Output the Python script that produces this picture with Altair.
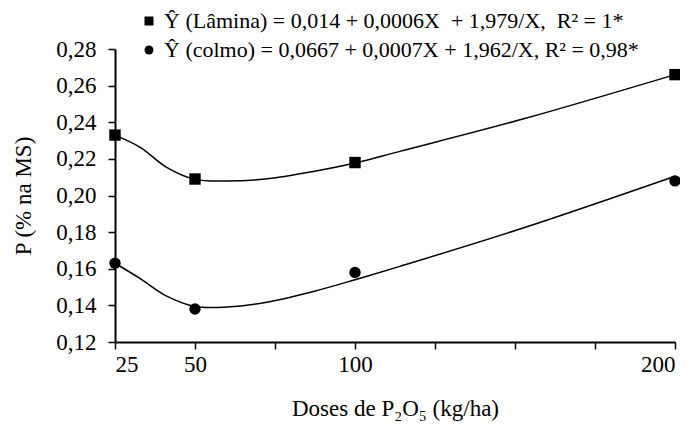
import altair as alt
import pandas as pd

# Observed values (markers)
doses = [25, 50, 100, 200]
lamina_obs = [0.233, 0.209, 0.218, 0.266]
colmo_obs = [0.163, 0.138, 0.158, 0.208]

# Fitted curve
curve_x = [25, 33, 41, 50, 60, 72, 87, 100, 114, 153, 200]
lamina_curve = [0.233, 0.2262, 0.2155, 0.2088, 0.2079, 0.209, 0.2131, 0.2177, 0.2241, 0.242, 0.266]
colmo_curve = [0.163, 0.1545, 0.1452, 0.1394, 0.1391, 0.1416, 0.1476, 0.154, 0.1613, 0.1825, 0.2105]

lab_lamina = "Ŷ (Lâmina) = 0,014 + 0,0006X \u00a0+ 1,979/X, \u00a0R² = 1*"
lab_colmo = "Ŷ (colmo) = 0,0667 + 0,0007X + 1,962/X, R² = 0,98*"
series_order = [lab_lamina, lab_colmo]

x_ticks = [25, 50, 75, 100, 125, 150, 175, 200]
y_ticks = [0.12, 0.14, 0.16, 0.18, 0.20, 0.22, 0.24, 0.26, 0.28]

obs = pd.DataFrame(
    [{"serie": lab_lamina, "dose": d, "p": v} for d, v in zip(doses, lamina_obs)]
    + [{"serie": lab_colmo, "dose": d, "p": v} for d, v in zip(doses, colmo_obs)]
)
curve = pd.DataFrame(
    [{"serie": lab_lamina, "dose": d, "p": v} for d, v in zip(curve_x, lamina_curve)]
    + [{"serie": lab_colmo, "dose": d, "p": v} for d, v in zip(curve_x, colmo_curve)]
)

FONT = "Liberation Serif"

x_enc = alt.X(
    "dose:Q",
    scale=alt.Scale(domain=[25, 200], nice=False, zero=False),
    axis=alt.Axis(
        values=x_ticks,
        labelExpr="(datum.value == 25 || datum.value == 50 || datum.value == 100 || datum.value == 200) ? datum.label : ''",
        title="Doses de P₂O₅ (kg/ha)",
        labelFont=FONT,
        titleFont=FONT,
        tickSize=7,
        labelPadding=4,
        titlePadding=21,
        grid=False,
    ),
)
y_enc = alt.Y(
    "p:Q",
    scale=alt.Scale(domain=[0.12, 0.28], nice=False, zero=False),
    axis=alt.Axis(
        values=y_ticks,
        labelExpr="replace(format(datum.value, '.2f'), '.', ',')",
        title="P (% na MS)",
        labelFont=FONT,
        titleFont=FONT,
        tickSize=7,
        labelPadding=12,
        titlePadding=20,
        grid=False,
    ),
)

line = alt.Chart(curve).mark_line(
    color="black", strokeWidth=1.5, interpolate="catmull-rom"
).encode(x=x_enc, y=y_enc, detail="serie:N", order="dose:Q")

points = alt.Chart(obs).mark_point(
    filled=True, opacity=1, color="black", size=130
).encode(
    x=x_enc,
    y=y_enc,
    shape=alt.Shape(
        "serie:N",
        scale=alt.Scale(domain=series_order, range=["square", "circle"]),
        legend=alt.Legend(
            title=None,
            orient="none",
            legendX=23,
            legendY=-39,
            direction="vertical",
            symbolSize=81,
            symbolFillColor="black",
            symbolStrokeColor="black",
            symbolOpacity=1,
            labelFont=FONT,
            labelFontSize=22,
            labelColor="black",
            labelLimit=0,
            labelOffset=4,
            rowPadding=7,
            padding=0,
        ),
    ),
)

chart = (
    alt.layer(line, points)
    .properties(
        width=560,
        height=293,
        autosize=alt.AutoSizeParams(type="none"),
        padding={"left": 107, "top": 41, "right": 5, "bottom": 82},
    )
    .configure(font=FONT)
    .configure_view(stroke=None)
    .configure_axis(
        labelFont=FONT,
        titleFont=FONT,
        labelFontSize=23,
        titleFontSize=23,
        titleFontWeight="normal",
        labelColor="black",
        titleColor="black",
        domainColor="black",
        tickColor="black",
        domainWidth=2,
        tickWidth=1.5,
    )
)

chart.save("out.html", embed_options={"renderer": "svg", "actions": False})
